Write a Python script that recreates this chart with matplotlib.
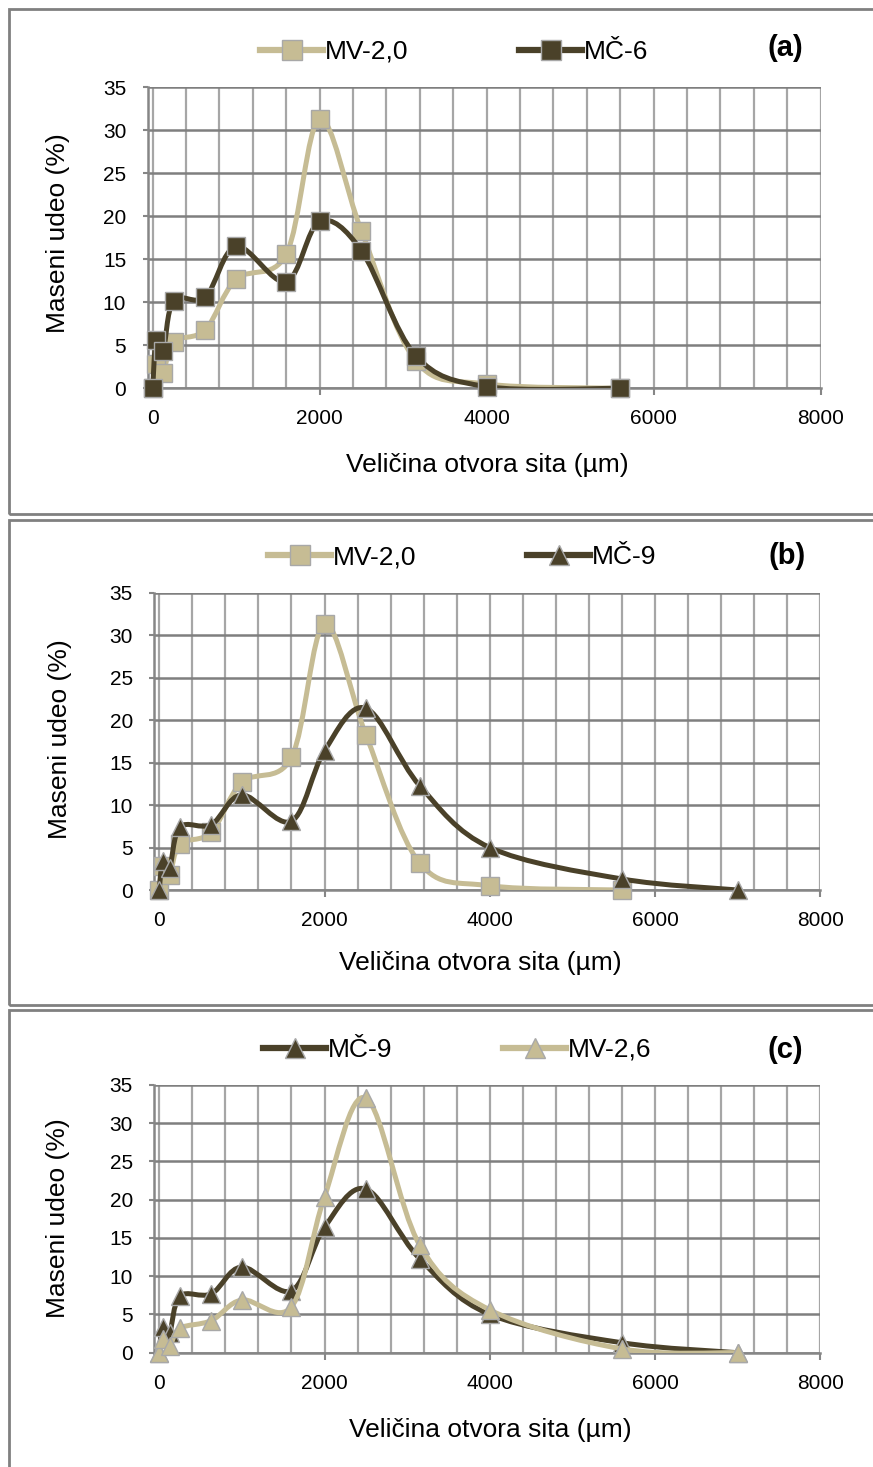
import numpy as np
import matplotlib
matplotlib.use("Agg")
import matplotlib.pyplot as plt
from matplotlib.path import Path
from matplotlib.patches import PathPatch, Rectangle
from matplotlib.lines import Line2D

plt.rcParams['font.family'] = ['Liberation Sans', 'DejaVu Sans']

# sieve openings (um)
sita_12 = [0, 40, 125, 250, 630, 1000, 1600, 2000, 2500, 3150, 4000, 5600]
sita_13 = [0, 40, 125, 250, 630, 1000, 1600, 2000, 2500, 3150, 4000, 5600, 7000]

# mass fractions (%)
mv_20 = [0, 2.8, 1.8, 5.4, 6.8, 12.7, 15.6, 31.3, 18.3, 3.2, 0.5, 0.0]
mc_6 = [0, 5.6, 4.3, 10.2, 10.6, 16.5, 12.4, 19.4, 16.0, 3.8, 0.2, 0.0]
mc_9 = [0, 3.4, 2.6, 7.4, 7.7, 11.2, 8.1, 16.4, 21.4, 12.3, 5.0, 1.3, 0.0]
mv_26 = [0, 1.8, 0.9, 3.2, 4.2, 6.9, 6.0, 20.4, 33.3, 14.1, 5.6, 0.5, 0.0]

x_ticks = [0, 2000, 4000, 6000, 8000]
y_ticks = [0, 5, 10, 15, 20, 25, 30, 35]

DARK = '#4a4129'
LIGHT = '#c6bc94'
W, H = 873, 1467


def smooth_path(x, y):
    # excel-like smoothed line (catmull-rom as bezier)
    p = np.column_stack([x, y]).astype(float)
    n = len(p)
    verts = [p[0]]
    codes = [Path.MOVETO]
    for i in range(n - 1):
        p0 = p[max(i - 1, 0)]
        p3 = p[min(i + 2, n - 1)]
        verts += [p[i] + (p[i + 1] - p0) / 6, p[i + 1] - (p3 - p[i]) / 6, p[i + 1]]
        codes += [Path.CURVE4] * 3
    return Path(verts, codes)


def px_rect(left, top, right, bottom):
    return [left / W, 1 - bottom / H, (right - left) / W, (bottom - top) / H]


def panel(rect, series, tag, leg_xy, tag_xy, xlab_xy, ylab_xy):
    ax = fig.add_axes(rect)
    handles = []
    for k, (x, y, color, marker, label) in enumerate(series):
        ax.add_patch(PathPatch(smooth_path(x, y), fill=False, ec=color, lw=3.6,
                               capstyle='round', joinstyle='round', zorder=3 + 2 * k))
        ax.plot(x, y, ls='none', marker=marker, ms=13, mfc=color, mec='#a8a8a8',
                mew=1, zorder=4 + 2 * k, clip_on=False)
        handles.append(Line2D([], [], color=color, lw=4.5, marker=marker, ms=14,
                              mfc=color, mec='#a8a8a8', mew=1, label=label))
    ax.set_xlim(-60, 8000)
    ax.set_ylim(0, 35)
    ax.set_xticks(x_ticks)
    ax.set_xticks(np.arange(0, 8001, 400), minor=True)
    ax.set_yticks(y_ticks)
    ax.grid(axis='x', which='both', color='#a6a6a6', lw=1.6, zorder=0)
    ax.grid(axis='y', which='major', color='#7f7f7f', lw=1.8, zorder=0)
    ax.set_axisbelow(True)
    for s in ['top', 'right']:
        ax.spines[s].set_visible(False)
    for s in ['left', 'bottom']:
        ax.spines[s].set_color('#868686')
        ax.spines[s].set_linewidth(1.8)
    ax.tick_params(axis='x', which='major', length=5, width=1.5, color='#868686',
                   labelsize=15, pad=10)
    ax.tick_params(axis='x', which='minor', length=0)
    ax.tick_params(axis='y', length=3.5, width=1.5, color='#868686', labelsize=15, pad=12)
    fig.legend(handles=handles, loc='center', ncol=2, frameon=False, fontsize=19,
               bbox_to_anchor=(leg_xy[0] / W, 1 - leg_xy[1] / H), handlelength=2.4,
               handletextpad=0.05, columnspacing=4.2, borderpad=0)
    fig.text(tag_xy[0] / W, 1 - tag_xy[1] / H, tag, fontsize=21, fontweight='bold',
             ha='center', va='center')
    fig.text(xlab_xy[0] / W, 1 - xlab_xy[1] / H, 'Veličina otvora sita (µm)',
             fontsize=19, ha='center', va='center')
    fig.text(ylab_xy[0] / W, 1 - ylab_xy[1] / H, 'Maseni udeo (%)', fontsize=19,
             rotation=90, ha='center', va='center')
    return ax


fig = plt.figure(figsize=(W / 100, H / 100), dpi=100)

# panel frames
for top, bottom in [(9, 514), (520, 1004.5), (1010, H + 10)]:
    fig.add_artist(Rectangle((9 / W, 1 - bottom / H), (W + 20) / W, (bottom - top) / H,
                             transform=fig.transFigure, fill=False, ec='#808080', lw=2))

panel(px_rect(147.7, 87.3, 820.6, 388.3),
      [(sita_12, mv_20, LIGHT, 's', 'MV-2,0'), (sita_12, mc_6, DARK, 's', 'MČ-6')],
      '(a)', (454, 52), (785, 48), (487, 465), (58, 233))

panel(px_rect(154.3, 592.7, 820.3, 890),
      [(sita_12, mv_20, LIGHT, 's', 'MV-2,0'), (sita_13, mc_9, DARK, '^', 'MČ-9')],
      '(b)', (462, 557), (787, 556), (480, 963), (60, 739))

panel(px_rect(154.3, 1085, 820.3, 1352.7),
      [(sita_13, mc_9, DARK, '^', 'MČ-9'), (sita_13, mv_26, LIGHT, '^', 'MV-2,6')],
      '(c)', (457, 1050), (785, 1050), (490, 1430), (58, 1218))

fig.savefig('out.png', dpi=100)
